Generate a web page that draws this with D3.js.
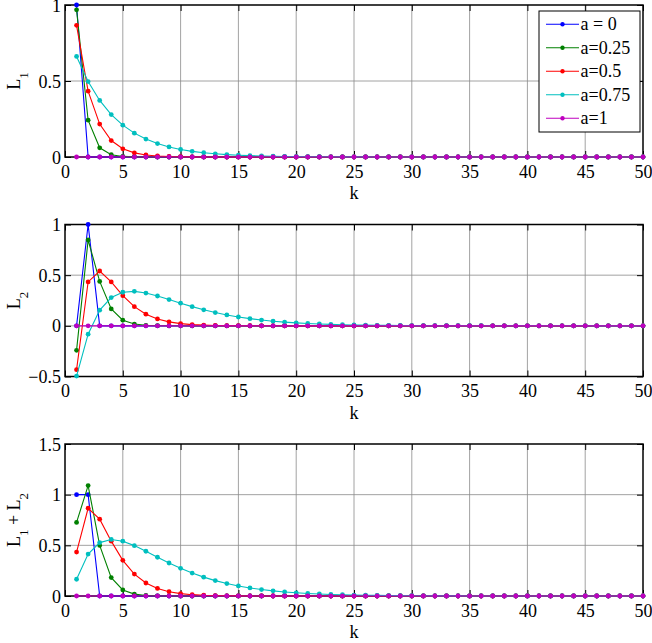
<!DOCTYPE html>
<html>
<head>
<meta charset="utf-8">
<script src="https://cdn.jsdelivr.net/npm/d3@7"></script>
<style>
  body { margin: 0; background: #fff; }
  svg text { font-family: "Liberation Serif", "Tinos", "Times New Roman", Times, "Nimbus Roman", "Nimbus Roman No9 L", "FreeSerif", "DejaVu Serif", "Noto Serif", serif !important; }
</style>
</head>
<body>
<div id="chart"></div>
<script>
// k = 1..50
const K = [1,2,3,4,5,6,7,8,9,10,11,12,13,14,15,16,17,18,19,20,
  21,22,23,24,25,26,27,28,29,30,31,32,33,34,35,36,37,38,39,40,
  41,42,43,44,45,46,47,48,49,50];

const LABELS = ['a = 0', 'a=0.25', 'a=0.5', 'a=0.75', 'a=1'];
const COLORS = ['#0000ff', '#008000', '#ff0000', '#00bfbf', '#bf00bf'];

const X_TICKS = [0,5,10,15,20,25,30,35,40,45,50];
const Y_TICKS_1 = [0, 0.5, 1];
const Y_TICKS_2 = [-0.5, 0, 0.5, 1];
const Y_TICKS_3 = [0, 0.5, 1, 1.5];

// L1
const L1_a0 = [1,0,0,0,0,0,0,0,0,0, 0,0,0,0,0,0,0,0,0,0, 0,0,0,0,0,0,0,0,0,0, 0,0,0,0,0,0,0,0,0,0, 0,0,0,0,0,0,0,0,0,0];
const L1_a025 = [0.9682,0.2421,0.0605,0.0151,0.0038,0.0009,0.0002,0,0,0, 0,0,0,0,0,0,0,0,0,0, 0,0,0,0,0,0,0,0,0,0, 0,0,0,0,0,0,0,0,0,0, 0,0,0,0,0,0,0,0,0,0];
const L1_a05 = [0.8660,0.4330,0.2165,0.1083,0.0541,0.0271,0.0135,0.0068,0.0034,0.0017, 0.0008,0.0004,0.0002,0.0001,0.0001,0,0,0,0,0, 0,0,0,0,0,0,0,0,0,0, 0,0,0,0,0,0,0,0,0,0, 0,0,0,0,0,0,0,0,0,0];
const L1_a075 = [0.6614,0.4961,0.3720,0.2790,0.2093,0.1570,0.1177,0.0883,0.0662,0.0497, 0.0372,0.0279,0.0210,0.0157,0.0118,0.0088,0.0066,0.0050,0.0037,0.0028, 0.0021,0.0016,0.0012,0.0009,0.0007,0.0005,0.0004,0.0003,0.0002,0.0002, 0.0001,0.0001,0,0,0,0,0,0,0,0, 0,0,0,0,0,0,0,0,0,0];
const L1_a1 = [0,0,0,0,0,0,0,0,0,0, 0,0,0,0,0,0,0,0,0,0, 0,0,0,0,0,0,0,0,0,0, 0,0,0,0,0,0,0,0,0,0, 0,0,0,0,0,0,0,0,0,0];

// L2
const L2_a0 = [0,1,0,0,0,0,0,0,0,0, 0,0,0,0,0,0,0,0,0,0, 0,0,0,0,0,0,0,0,0,0, 0,0,0,0,0,0,0,0,0,0, 0,0,0,0,0,0,0,0,0,0];
const L2_a025 = [-0.2421,0.8472,0.4387,0.1664,0.0558,0.0175,0.0053,0.0015,0.0004,0.0001, 0,0,0,0,0,0,0,0,0,0, 0,0,0,0,0,0,0,0,0,0, 0,0,0,0,0,0,0,0,0,0, 0,0,0,0,0,0,0,0,0,0];
const L2_a05 = [-0.4330,0.4330,0.5413,0.4330,0.2977,0.1894,0.1150,0.0677,0.0389,0.0220, 0.0123,0.0068,0.0037,0.0020,0.0011,0.0006,0.0003,0.0002,0.0001,0, 0,0,0,0,0,0,0,0,0,0, 0,0,0,0,0,0,0,0,0,0, 0,0,0,0,0,0,0,0,0,0];
const L2_a075 = [-0.4961,-0.0827,0.1550,0.2790,0.3314,0.3401,0.3237,0.2943,0.2593,0.2235, 0.1893,0.1583,0.1309,0.1074,0.0874,0.0707,0.0569,0.0456,0.0364,0.0289, 0.0229,0.0181,0.0143,0.0112,0.0088,0.0069,0.0054,0.0042,0.0033,0.0025, 0.0020,0.0015,0.0012,0.0009,0.0007,0.0006,0.0004,0.0003,0.0003,0.0002, 0.0002,0.0001,0.0001,0.0001,0.0001,0,0,0,0,0];
const L2_a1 = [0,0,0,0,0,0,0,0,0,0, 0,0,0,0,0,0,0,0,0,0, 0,0,0,0,0,0,0,0,0,0, 0,0,0,0,0,0,0,0,0,0, 0,0,0,0,0,0,0,0,0,0];

// L1 + L2
const S_a0 = [1,1,0,0,0,0,0,0,0,0, 0,0,0,0,0,0,0,0,0,0, 0,0,0,0,0,0,0,0,0,0, 0,0,0,0,0,0,0,0,0,0, 0,0,0,0,0,0,0,0,0,0];
const S_a025 = [0.7261,1.0893,0.4992,0.1815,0.0596,0.0184,0.0055,0.0015,0.0004,0.0001, 0,0,0,0,0,0,0,0,0,0, 0,0,0,0,0,0,0,0,0,0, 0,0,0,0,0,0,0,0,0,0, 0,0,0,0,0,0,0,0,0,0];
const S_a05 = [0.4330,0.8660,0.7578,0.5413,0.3518,0.2165,0.1285,0.0745,0.0423,0.0237, 0.0131,0.0072,0.0039,0.0021,0.0012,0.0006,0.0003,0.0002,0.0001,0, 0,0,0,0,0,0,0,0,0,0, 0,0,0,0,0,0,0,0,0,0, 0,0,0,0,0,0,0,0,0,0];
const S_a075 = [0.1653,0.4134,0.5270,0.5580,0.5407,0.4971,0.4414,0.3826,0.3255,0.2732, 0.2265,0.1862,0.1519,0.1231,0.0992,0.0795,0.0635,0.0506,0.0401,0.0317, 0.0250,0.0197,0.0155,0.0121,0.0095,0.0074,0.0058,0.0045,0.0035,0.0027, 0.0021,0.0016,0.0012,0.0009,0.0007,0.0006,0.0004,0.0003,0.0003,0.0002, 0.0002,0.0001,0.0001,0.0001,0.0001,0,0,0,0,0];
const S_a1 = [0,0,0,0,0,0,0,0,0,0, 0,0,0,0,0,0,0,0,0,0, 0,0,0,0,0,0,0,0,0,0, 0,0,0,0,0,0,0,0,0,0, 0,0,0,0,0,0,0,0,0,0];

const WIDTH = 652, HEIGHT = 643;
const PLOT_LEFT = 65, PLOT_RIGHT = 643, PLOT_H = 152;
const TICK_LEN = 6;
const FONT = 18;

const svg = d3.select('#chart')
  .append('svg')
    .attr('width', WIDTH)
    .attr('height', HEIGHT)
    .style('display', 'block');

const panels = [
  { top: 5,     domain: [0, 1],    ticks: Y_TICKS_1, series: [L1_a0, L1_a025, L1_a05, L1_a075, L1_a1], label: [['L', ''], ['1', 'sub']] },
  { top: 224.5, domain: [-0.5, 1], ticks: Y_TICKS_2, series: [L2_a0, L2_a025, L2_a05, L2_a075, L2_a1], label: [['L', ''], ['2', 'sub']] },
  { top: 444,   domain: [0, 1.5],  ticks: Y_TICKS_3, series: [S_a0, S_a025, S_a05, S_a075, S_a1], label: [['L', ''], ['1', 'sub'], [' + L', ''], ['2', 'sub']] }
];

panels.forEach((p, i) => drawPanel(p, i === 0));

function drawPanel(p, withLegend) {
  const x = d3.scaleLinear().domain([0, 50]).range([PLOT_LEFT, PLOT_RIGHT]);
  const y = d3.scaleLinear().domain(p.domain).range([p.top + PLOT_H, p.top]);

  const g = svg.append('g');

  // grid
  g.append('g')
    .selectAll('line')
    .data(X_TICKS.slice(1, -1))
    .join('line')
      .attr('x1', d => x(d)).attr('x2', d => x(d))
      .attr('y1', y.range()[0]).attr('y2', y.range()[1])
      .attr('stroke', '#8a8a8a')
      .attr('stroke-width', 0.8);

  g.append('g')
    .selectAll('line')
    .data(p.ticks.slice(1, -1))
    .join('line')
      .attr('x1', PLOT_LEFT).attr('x2', PLOT_RIGHT)
      .attr('y1', d => y(d)).attr('y2', d => y(d))
      .attr('stroke', '#8a8a8a')
      .attr('stroke-width', 0.8);

  // axes: ticks inward on all four sides, matlab style
  const bottom = g.append('g')
    .attr('transform', `translate(0, ${y.range()[0]})`)
    .call(d3.axisBottom(x).tickValues(X_TICKS).tickSizeInner(-TICK_LEN).tickSizeOuter(0).tickPadding(TICK_LEN + 4));
  const top = g.append('g')
    .attr('transform', `translate(0, ${y.range()[1]})`)
    .call(d3.axisTop(x).tickValues(X_TICKS).tickSizeInner(-TICK_LEN).tickSizeOuter(0).tickFormat(''));
  const left = g.append('g')
    .attr('transform', `translate(${PLOT_LEFT}, 0)`)
    .call(d3.axisLeft(y).tickValues(p.ticks).tickSizeInner(-TICK_LEN).tickSizeOuter(0).tickPadding(TICK_LEN + 4).tickFormat(d3.format('')));
  const right = g.append('g')
    .attr('transform', `translate(${PLOT_RIGHT}, 0)`)
    .call(d3.axisRight(y).tickValues(p.ticks).tickSizeInner(-TICK_LEN).tickSizeOuter(0).tickFormat(''));

  [bottom, top, left, right].forEach(a => {
    a.attr('font-family', null);
    a.select('.domain').remove();
    a.selectAll('.tick line').attr('stroke', '#000').attr('stroke-width', 1);
    a.selectAll('text')
      .attr('font-size', FONT)
      .attr('fill', '#000');
  });
  bottom.selectAll('text').attr('dy', null).attr('y', 20.5);
  left.selectAll('text').attr('dy', '0.34em').attr('x', -4);

  // frame
  g.append('rect')
    .attr('x', PLOT_LEFT).attr('y', p.top)
    .attr('width', PLOT_RIGHT - PLOT_LEFT).attr('height', PLOT_H)
    .attr('fill', 'none')
    .attr('stroke', '#000')
    .attr('stroke-width', 1.5);

  // series
  const line = d3.line()
    .x((d, j) => x(K[j]))
    .y(d => y(d));

  p.series.forEach((s, si) => {
    g.append('path')
      .datum(s)
      .attr('d', line)
      .attr('fill', 'none')
      .attr('stroke', COLORS[si])
      .attr('stroke-width', 1.1);
    g.append('g')
      .selectAll('circle')
      .data(s)
      .join('circle')
        .attr('cx', (d, j) => x(K[j]))
        .attr('cy', d => y(d))
        .attr('r', 2.4)
        .attr('fill', COLORS[si]);
  });

  // x label
  g.append('text')
    .attr('x', (PLOT_LEFT + PLOT_RIGHT) / 2)
    .attr('y', y.range()[0] + 42)
    .attr('text-anchor', 'middle')
    .attr('font-size', FONT)
    .text('k');

  // y label
  const yl = g.append('text')
    .attr('transform', `translate(19.5, ${p.top + PLOT_H / 2}) rotate(-90)`)
    .attr('text-anchor', 'middle')
    .attr('font-size', FONT);
  p.label.forEach(([t, kind], li) => {
    const prev = li > 0 ? p.label[li - 1][1] : '';
    yl.append('tspan')
      .attr('font-size', kind === 'sub' ? 13 : FONT)
      .attr('dy', kind === 'sub' ? 8 : (prev === 'sub' ? -8 : 0))
      .style('white-space', 'pre')
      .text(t);
  });

  if (withLegend) drawLegend();
}

function drawLegend() {
  const lg = svg.append('g');
  lg.append('rect')
    .attr('x', 539).attr('y', 11)
    .attr('width', 101).attr('height', 121)
    .attr('fill', '#fff')
    .attr('stroke', '#000')
    .attr('stroke-width', 1);

  const rowY = d3.scaleLinear().domain([0, 4]).range([24.3, 118.3]);

  LABELS.forEach((lab, i) => {
    const cy = rowY(i);
    lg.append('line')
      .attr('x1', 546).attr('x2', 579)
      .attr('y1', cy).attr('y2', cy)
      .attr('stroke', COLORS[i])
      .attr('stroke-width', 1.1);
    lg.append('circle')
      .attr('cx', 562.5).attr('cy', cy)
      .attr('r', 2.2)
      .attr('fill', COLORS[i]);
    lg.append('text')
      .attr('x', 580.5).attr('y', cy)
      .attr('dy', '0.34em')
      .attr('font-size', FONT)
      .style('white-space', 'pre')
      .text(lab);
  });
}
</script>
</body>
</html>
